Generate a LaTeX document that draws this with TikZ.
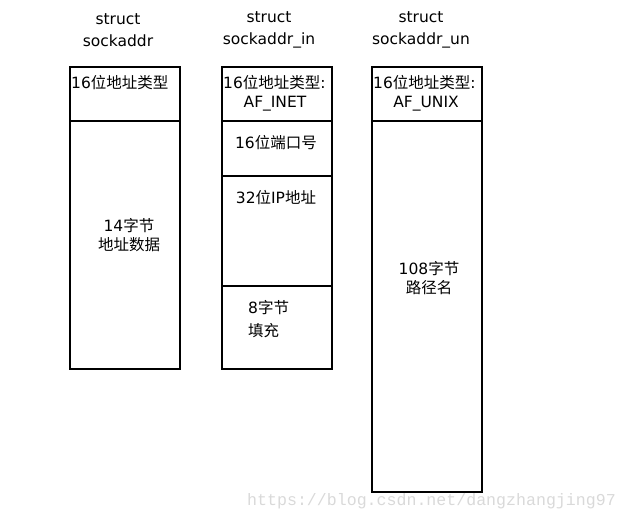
\documentclass[tikz,border=0pt]{standalone}
\usepackage{fontspec}
\setmainfont{DejaVu Sans}
\newfontfamily\cjk{Noto Sans CJK SC}
\newfontfamily\wmfont{Liberation Mono}
\begin{document}
\begin{tikzpicture}[x=1pt,y=-1pt,
  field/.style={draw=black,line width=2.3pt,minimum width=110pt,inner sep=0pt,anchor=north west},
  lbl/.style={inner sep=0pt,font=\fontsize{15.5}{19}\selectfont,align=center},
  lbll/.style={lbl,anchor=west},
  hdr/.style={inner sep=0pt,font=\fontsize{15.5}{22}\selectfont,align=center}]
\useasboundingbox (0,0) rectangle (629,519);
% headers
\node[hdr] (h1) at (118,30) {struct\\sockaddr};
\node[hdr] (h2) at (269,30) {struct\\sockaddr\_in};
\node[hdr] (h3) at (421,30) {struct\\sockaddr\_un};
% box 1
\node[field,minimum height=54pt] (a1) at (69,66) {};
\node[field,minimum height=248pt] (a2) at (69,120) {};
% box 2
\node[field,minimum height=54pt] (b1) at (221,66) {};
\node[field,minimum height=55pt] (b2) at (221,120) {};
\node[field,minimum height=110pt] (b3) at (221,175) {};
\node[field,minimum height=83pt] (b4) at (221,285) {};
% box 3
\node[field,minimum height=54pt] (c1) at (371,66) {};
\node[field,minimum height=371pt] (c2) at (371,120) {};
% labels
\node[lbll] (ta1) at (71,83) {16{\cjk 位地址类型}};
\node[lbl] (ta2) at (129,235) {14{\cjk 字节}\\{\cjk 地址数据}};
\node[lbll] (tb1) at (223,83) {16{\cjk 位地址类型}:};
\node[lbl] (tb1b) at (275,104) {AF\_INET};
\node[lbl] (tb2) at (276,143) {16{\cjk 位端口号}};
\node[lbl] (tb3) at (276,198) {32{\cjk 位}IP{\cjk 地址}};
\node[lbll] (tb4) at (248,308) {8{\cjk 字节}};
\node[lbll] (tb4b) at (248,331) {{\cjk 填充}};
\node[lbll] (tc1) at (373,83) {16{\cjk 位地址类型}:};
\node[lbl] (tc1b) at (426,104) {AF\_UNIX};
\node[lbl] (tc2) at (429,278) {108{\cjk 字节}\\{\cjk 路径名}};
% watermark
\node[inner sep=0pt,anchor=base west,text=black!15,font=\wmfont\fontsize{16.6}{18}\selectfont] (wm) at (247,505) {https://blog.csdn.net/dangzhangjing97};
\end{tikzpicture}
\end{document}
